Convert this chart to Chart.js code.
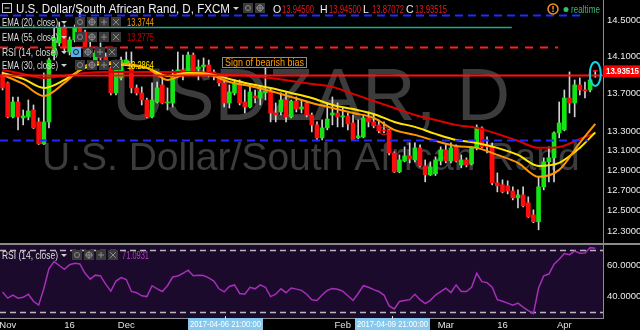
<!DOCTYPE html>
<html>
<head>
<meta charset="utf-8">
<script src="https://cdn.jsdelivr.net/npm/chart.js@4.4.1/dist/chart.umd.min.js"></script>
<style>
  html, body { margin: 0; padding: 0; background: #000; }
  #wrap { position: relative; width: 640px; height: 330px; overflow: hidden; background: #000; }
  #price { position: absolute; left: 0; top: 0; }
  #rsi { position: absolute; left: 0; top: 243px; }
</style>
</head>
<body>
<div id="wrap">
  <canvas id="price" width="640" height="243"></canvas>
  <canvas id="rsi" width="640" height="87"></canvas>
</div>
<script>
// daily USDZAR candles (oldest first)
const opens = [
  13.897, 13.810, 13.448, 13.606, 13.437, 13.448, 13.521, 13.395, 13.167, 13.395,
  14.115, 14.249, 14.416, 14.148, 14.282, 14.416, 14.371, 14.192, 14.027, 14.137,
  14.093, 13.973, 13.702, 13.864, 14.027, 13.973, 13.756, 13.702, 13.627, 13.448,
  13.606, 13.788, 13.595, 13.595, 13.918, 13.951, 13.929, 14.115, 13.962, 13.984,
  14.005, 13.929, 13.875, 13.810, 13.595, 13.702, 13.810, 13.606, 13.553, 13.670,
  13.648, 13.702, 13.713, 13.489, 13.500, 13.627, 13.448, 13.616, 13.531, 13.595,
  13.468, 13.364, 13.229, 13.333, 13.468, 13.489, 13.448, 13.458, 13.385, 13.229,
  13.239, 13.437, 13.395, 13.364, 13.312, 13.312, 13.074, 12.882, 12.993, 13.044,
  13.003, 13.126, 12.942, 12.852, 12.862, 12.993, 13.105, 12.993, 13.136, 12.952,
  13.003, 12.962, 13.126, 13.333, 13.157, 13.136, 12.772, 12.752, 12.742, 12.692,
  12.623, 12.652, 12.574, 12.456, 12.389, 12.732, 12.983, 13.024, 13.281, 13.312,
  13.648, 13.595, 13.788, 13.734, 13.734, 13.945
];
const highs = [
  13.929, 13.820, 13.659, 13.659, 13.521, 13.627, 13.574, 13.437, 13.918, 14.082,
  14.427, 14.483, 14.450, 14.315, 14.450, 14.620, 14.393, 14.282, 14.170, 14.249,
  14.137, 13.984, 14.060, 14.093, 14.148, 14.148, 13.788, 13.767, 13.648, 13.810,
  13.820, 13.875, 13.756, 13.951, 14.148, 14.115, 14.148, 14.137, 14.060, 14.082,
  14.060, 13.951, 13.897, 13.842, 13.788, 13.842, 13.842, 13.734, 13.767, 13.734,
  13.767, 13.973, 13.756, 13.595, 13.702, 13.702, 13.627, 13.659, 13.627, 13.606,
  13.489, 13.395, 13.416, 13.595, 13.659, 13.595, 13.542, 13.489, 13.468, 13.416,
  13.468, 13.500, 13.468, 13.416, 13.395, 13.320, 13.085, 13.054, 13.136, 13.177,
  13.177, 13.157, 13.003, 12.983, 13.034, 13.136, 13.157, 13.177, 13.157, 13.054,
  13.024, 13.136, 13.364, 13.343, 13.239, 13.177, 12.872, 12.802, 12.792, 12.732,
  12.702, 12.732, 12.633, 12.505, 12.832, 13.024, 13.136, 13.291, 13.606, 13.734,
  13.929, 13.842, 13.864, 13.820, 13.929, 13.945
];
const lows = [
  13.734, 13.437, 13.437, 13.312, 13.364, 13.416, 13.325, 13.160, 13.160, 13.333,
  14.060, 14.215, 14.137, 14.115, 14.260, 14.282, 14.170, 14.093, 14.005, 13.984,
  13.984, 13.680, 13.680, 13.842, 14.005, 13.702, 13.680, 13.574, 13.437, 13.437,
  13.595, 13.585, 13.521, 13.553, 13.907, 13.842, 13.897, 13.897, 13.842, 13.918,
  13.875, 13.842, 13.777, 13.553, 13.542, 13.680, 13.574, 13.489, 13.542, 13.595,
  13.574, 13.627, 13.395, 13.395, 13.468, 13.395, 13.437, 13.500, 13.489, 13.448,
  13.291, 13.208, 13.208, 13.312, 13.364, 13.343, 13.343, 13.312, 13.200, 13.218,
  13.229, 13.343, 13.333, 13.281, 13.281, 13.054, 12.875, 12.872, 12.983, 12.973,
  12.983, 12.932, 12.782, 12.845, 12.845, 12.952, 12.973, 12.973, 12.983, 12.922,
  12.932, 12.952, 13.105, 13.126, 13.074, 12.752, 12.682, 12.672, 12.662, 12.603,
  12.525, 12.534, 12.430, 12.379, 12.311, 12.702, 12.782, 12.782, 13.229, 13.302,
  13.489, 13.448, 13.680, 13.648, 13.713, 13.87072
];
const closes = [
  13.756, 13.448, 13.606, 13.448, 13.458, 13.510, 13.333, 13.167, 13.395, 14.060,
  14.304, 14.416, 14.192, 14.282, 14.416, 14.371, 14.192, 14.115, 14.137, 14.082,
  14.027, 13.702, 13.973, 14.060, 14.060, 13.756, 13.702, 13.627, 13.448, 13.627,
  13.756, 13.595, 13.606, 13.875, 13.951, 13.929, 14.115, 13.918, 13.984, 14.005,
  13.918, 13.918, 13.810, 13.595, 13.713, 13.810, 13.595, 13.553, 13.713, 13.648,
  13.713, 13.723, 13.489, 13.468, 13.627, 13.448, 13.616, 13.531, 13.553, 13.468,
  13.364, 13.229, 13.333, 13.426, 13.489, 13.448, 13.458, 13.374, 13.208, 13.250,
  13.437, 13.395, 13.354, 13.302, 13.302, 13.074, 12.882, 13.003, 13.044, 13.013,
  13.126, 12.942, 12.852, 12.932, 13.003, 13.105, 12.993, 13.126, 12.993, 13.003,
  12.952, 13.126, 13.333, 13.136, 13.136, 12.772, 12.742, 12.682, 12.692, 12.623,
  12.652, 12.544, 12.437, 12.389, 12.732, 12.983, 13.024, 13.281, 13.385, 13.648,
  13.595, 13.788, 13.734, 13.723, 13.842, 13.93515
];

// moving averages read every fourth bar
const emaIdx = [0, 4, 8, 12, 16, 20, 24, 28, 32, 36, 40, 44, 48, 52, 56, 60, 64, 68, 72, 76, 80, 84, 88, 92, 96, 100, 104, 108, 112, 115];
const ema20 = [13.897, 13.799, 13.670, 13.810, 13.995, 14.038, 14.016, 13.973, 13.842, 13.907, 13.897, 13.820, 13.777, 13.723, 13.659,
  13.595, 13.542, 13.489, 13.437, 13.312, 13.260, 13.198, 13.146, 13.126, 13.054, 12.973, 12.832, 12.902, 13.177, 13.3744];
const ema30 = [13.918, 13.853, 13.756, 13.842, 13.973, 14.016, 14.005, 13.973, 13.886, 13.918, 13.907, 13.853, 13.799, 13.756, 13.702,
  13.648, 13.574, 13.531, 13.479, 13.395, 13.343, 13.270, 13.208, 13.177, 13.126, 13.054, 12.942, 12.973, 13.126, 13.2864];
const ema55 = [13.951, 13.907, 13.864, 13.886, 13.918, 13.929, 13.929, 13.929, 13.929, 13.929, 13.918, 13.897, 13.886, 13.864, 13.831,
  13.799, 13.767, 13.692, 13.616, 13.542, 13.468, 13.416, 13.364, 13.333, 13.270, 13.198, 13.126, 13.136, 13.218, 13.2775];

const rsi = [
  43, 39, 41, 39, 39.5, 41.5, 37, 34.5, 45, 58,
  62.5, 60, 57.5, 60.5, 61.4, 61, 55, 51.2, 53.8, 53.3,
  48, 43.5, 50, 52.2, 51, 43.3, 42.5, 40.5, 40, 47,
  45, 43.3, 47, 52.6, 53.2, 55, 57, 53.4, 53.8, 53.5,
  52, 50, 45, 43, 46.5, 47.5, 42, 41.5, 46, 45,
  47.5, 46, 40, 41.5, 45, 42.5, 45.5, 44.8, 44, 41.5,
  38, 37.5, 41, 44, 45.2, 44.7, 43.5, 40.5, 37.5, 42,
  47, 46, 44.5, 43.3, 41, 34, 32, 36.8, 37.4, 38,
  41.5, 38, 35.5, 37.6, 41, 43.2, 45.4, 42.6, 47.5, 43.3,
  43.2, 46, 55, 49.6, 49, 46, 38, 37, 35.8, 34.5,
  35.8, 33.2, 31, 29, 45.5, 53.3, 54.5, 60.8, 64, 67.7,
  67, 69.3, 67.9, 68, 71.5, 71.0931
];

// drawn levels: price and the bar where each one stops
const levelValues = [14.563, 14.427, 14.204, 13.90, 13.208];
const levelEnds = [112.6, 98.8, 107.8, 116.5, 113.6];
const rsiBands = [70, 30];

const priceTicks = [12.3, 12.5, 12.7, 12.9, 13.1, 13.3, 13.7, 14.1, 14.5];
const rsiTicks = [40, 60];
const xTickIdx = [1, 13, 24, 66, 86, 97, 109];
const xTickText = ['Nov', '16', 'Dec', 'Feb', 'Mar', '16', 'Apr'];

const slots = 117;
const labels = Array.from({ length: slots }, (_, i) => i);
const last = closes.length - 1;

const FONT = "'Liberation Sans', Arial, sans-serif";
const AXFONT = "'Liberation Sans Narrow', 'Liberation Sans', Arial, sans-serif";
const upColor = '#16e316';
const downColor = '#ff0d0d';

function sparse(idx, vals) {
  const out = new Array(slots).fill(null);
  idx.forEach((k, j) => { out[k] = vals[j]; });
  return out;
}

function noPad(s) {
  s.paddingTop = 0; s.paddingBottom = 0; s.paddingLeft = 0; s.paddingRight = 0;
}

function text(ctx, s, x, y, color, size, maxW) {
  ctx.fillStyle = color;
  ctx.font = size + 'px ' + FONT;
  ctx.textAlign = 'left';
  ctx.textBaseline = 'alphabetic';
  if (maxW) ctx.fillText(s, x, y, maxW); else ctx.fillText(s, x, y);
}

function icons(ctx, x0, top, n, blueFirst) {
  for (let k = 0; k < n; k++) {
    const x = x0 + k * 12;
    ctx.fillStyle = (blueFirst && k === 0) ? '#5ab0e6' : '#3a3a3a';
    ctx.fillRect(x, top, 10, 10);
    ctx.strokeStyle = (blueFirst && k === 0) ? '#123' : '#8a8a8a';
    ctx.lineWidth = 1;
    ctx.beginPath();
    if (k === 0) { ctx.arc(x + 5, top + 5, 2.5, 0, Math.PI * 2); }
    else if (k === 1) { ctx.arc(x + 5, top + 5, 2.8, 0, Math.PI * 2); ctx.moveTo(x + 5, top + 1); ctx.lineTo(x + 5, top + 9); ctx.moveTo(x + 1, top + 5); ctx.lineTo(x + 9, top + 5); }
    else if (k === 2) { ctx.moveTo(x + 5, top + 2); ctx.lineTo(x + 5, top + 8); ctx.moveTo(x + 2, top + 5); ctx.lineTo(x + 8, top + 5); }
    else { ctx.moveTo(x + 2, top + 2); ctx.lineTo(x + 8, top + 8); ctx.moveTo(x + 8, top + 2); ctx.lineTo(x + 2, top + 8); }
    ctx.stroke();
  }
}

function caret(ctx, x, y) {
  ctx.fillStyle = '#cfcfcf';
  ctx.beginPath();
  ctx.moveTo(x, y); ctx.lineTo(x + 6, y); ctx.lineTo(x + 3, y + 3);
  ctx.closePath();
  ctx.fill();
}

const levelStyles = [
  { color: '#1f2bff', width: 2, dash: [8, 5] },
  { color: '#1fa88c', width: 1.5, dash: [] },
  { color: '#ff2020', width: 2, dash: [8, 7] },
  { color: '#ff1010', width: 2, dash: [] },
  { color: '#1f2bff', width: 2, dash: [8, 5] }
];

const priceDecor = {
  id: 'priceDecor',
  beforeDatasetsDraw(chart) {
    const ctx = chart.ctx;
    ctx.save();
    ctx.fillStyle = '#3c3c3c';
    ctx.textBaseline = 'alphabetic';
    ctx.textAlign = 'left';
    ctx.font = '74px ' + FONT;
    ctx.fillText('USDZAR, D', 112, 120, 398);
    ctx.font = '39px ' + FONT;
    ctx.fillText('U.S. Dollar/South African Rand', 42, 170, 548);
    ctx.restore();
  },
  afterDatasetsDraw(chart) {
    const ctx = chart.ctx;
    const a = chart.chartArea;
    const xs = chart.scales.x, ys = chart.scales.y;
    ctx.save();
    levelValues.forEach((v, k) => {
      const st = levelStyles[k];
      const y = Math.round(ys.getPixelForValue(v)) + 0.5;
      const xe = Math.min(a.right, xs.getPixelForValue(levelEnds[k]));
      ctx.strokeStyle = st.color;
      ctx.lineWidth = st.width;
      ctx.setLineDash(st.dash);
      ctx.beginPath();
      ctx.moveTo(a.left, y);
      ctx.lineTo(xe, y);
      ctx.stroke();
    });
    ctx.setLineDash([]);

    // highlighted last bar
    const lx = xs.getPixelForValue(last);
    const ly = ys.getPixelForValue((highs[last] + lows[last]) / 2);
    ctx.strokeStyle = '#14d4e8';
    ctx.lineWidth = 2;
    ctx.beginPath();
    ctx.ellipse(lx, ly, 5.5, 12, 0, 0, Math.PI * 2);
    ctx.stroke();

    // small marker
    ctx.strokeStyle = '#e02020';
    ctx.lineWidth = 1;
    ctx.beginPath();
    ctx.arc(xs.getPixelForValue(74), ys.getPixelForValue(closes[74]), 4, 0, Math.PI * 2);
    ctx.stroke();

    // note box
    ctx.fillStyle = '#000';
    ctx.fillRect(222, 57, 85, 11);
    ctx.strokeStyle = '#8a8a8a';
    ctx.strokeRect(222.5, 57.5, 84, 10);
    text(ctx, 'Sign of bearish bias', 225, 66, '#ffa000', 10, 79);
    ctx.restore();
  },
  afterDraw(chart) {
    const ctx = chart.ctx;
    const ys = chart.scales.y;
    ctx.save();
    // title row
    ctx.strokeStyle = '#cfcfcf';
    ctx.lineWidth = 1;
    ctx.strokeRect(2.5, 3.5, 9, 9);
    ctx.beginPath(); ctx.moveTo(4.5, 8); ctx.lineTo(9.5, 8); ctx.stroke();
    text(ctx, 'U.S. Dollar/South African Rand, D, FXCM', 16, 13, '#f2f2f2', 12.5, 214);
    caret(ctx, 233, 7);
    icons(ctx, 243, 3, 2, false);
    const ohlc = [['O', opens[last]], ['H', highs[last]], ['L', lows[last]], ['C', closes[last]]];
    const ox = [273, 320, 363, 406];
    ohlc.forEach((p, k) => {
      text(ctx, p[0], ox[k], 13, '#f2f2f2', 10.5);
      text(ctx, p[1].toFixed(5), ox[k] + 9, 13, '#e21d1d', 10.5, 32);
    });
    // realtime badge
    ctx.strokeStyle = '#f0922a';
    ctx.lineWidth = 1.5;
    ctx.beginPath(); ctx.arc(553, 9, 5, 0, Math.PI * 2); ctx.stroke();
    ctx.fillStyle = '#f0922a';
    ctx.fillRect(552.3, 6, 1.5, 3.5);
    ctx.fillRect(552.3, 10.5, 1.5, 1.5);
    ctx.fillStyle = '#2fbf71';
    ctx.beginPath(); ctx.arc(566, 9.5, 2.5, 0, Math.PI * 2); ctx.fill();
    text(ctx, 'realtime', 571, 13, '#3fb37a', 10, 29);

    // indicator legend
    const rows = [
      { label: 'EMA (20, close)', y: 26, val: ema20[ema20.length - 1].toFixed(4), color: '#ff9a00' },
      { label: 'EMA (55, close)', y: 41, val: ema55[ema55.length - 1].toFixed(4), color: '#c80000' },
      { label: 'RSI (14, close)', y: 56, val: null, color: null },
      { label: 'EMA (30, close)', y: 69, val: ema30[ema30.length - 1].toFixed(4), color: '#ffee00' }
    ];
    rows.forEach((r, k) => {
      text(ctx, r.label, 2, r.y, '#dcdcdc', 10.5, 56);
      caret(ctx, 61, r.y - 5);
      icons(ctx, k === 2 ? 71 : 75, r.y - 9, 4, k === 2);
      if (r.val) text(ctx, r.val, 127, r.y, r.color, 10.5, 27);
    });

    // last price on the axis
    const py = ys.getPixelForValue(closes[last]);
    ctx.fillStyle = '#ff0000';
    ctx.fillRect(603, py - 6, 37, 12);
    ctx.fillStyle = '#fff';
    ctx.font = 'bold 9px ' + AXFONT;
    ctx.textBaseline = 'middle';
    ctx.fillText(closes[last].toFixed(5), 606, py + 0.5, 33);
    ctx.restore();
  }
};

const rsiDecor = {
  id: 'rsiDecor',
  beforeDatasetsDraw(chart) {
    const ctx = chart.ctx;
    const a = chart.chartArea;
    const ys = chart.scales.y;
    ctx.save();
    ctx.fillStyle = '#1c0a2c';
    ctx.fillRect(a.left, a.top, a.right - a.left, a.bottom - a.top);
    ctx.fillStyle = '#8a8a8a';
    ctx.fillRect(0, 0, 640, 2);
    ctx.strokeStyle = '#b8b8b8';
    ctx.lineWidth = 1.5;
    ctx.setLineDash([6, 4]);
    rsiBands.forEach(v => {
      const y = Math.round(ys.getPixelForValue(v)) + 0.5;
      ctx.beginPath();
      ctx.moveTo(a.left, y);
      ctx.lineTo(a.right, y);
      ctx.stroke();
    });
    ctx.restore();
  },
  afterDraw(chart) {
    const ctx = chart.ctx;
    ctx.save();
    text(ctx, 'RSI (14, close)', 2, 16, '#dcdcdc', 10.5, 56);
    caret(ctx, 61, 11);
    icons(ctx, 72, 7, 4, false);
    text(ctx, rsi[last].toFixed(4), 122, 16, '#b040c0', 10.5, 27);

    // crosshair date boxes
    const boxes = [[188, '2017-04-06 21:00:00'], [355, '2017-04-09 21:00:00']];
    boxes.forEach(b => {
      ctx.fillStyle = '#86c8ee';
      ctx.fillRect(b[0], 75, 75, 12);
      ctx.fillStyle = '#dcdcdc';
      ctx.fillRect(b[0] + 37, 73, 1, 3);
      ctx.fillStyle = '#fff';
      ctx.font = '9.5px ' + FONT;
      ctx.textBaseline = 'middle';
      ctx.textAlign = 'center';
      ctx.fillText(b[1], b[0] + 37.5, 81.5, 71);
    });
    ctx.restore();
  }
};

new Chart(document.getElementById('price'), {
  type: 'bar',
  data: {
    labels: labels,
    datasets: [
      {
        type: 'line', label: 'EMA 20', data: sparse(emaIdx, ema20), spanGaps: true,
        borderColor: '#ff9800', borderWidth: 2, pointRadius: 0, cubicInterpolationMode: 'monotone', order: 0
      },
      {
        type: 'line', label: 'EMA 30', data: sparse(emaIdx, ema30), spanGaps: true,
        borderColor: '#ffe600', borderWidth: 2, pointRadius: 0, cubicInterpolationMode: 'monotone', order: 0
      },
      {
        type: 'line', label: 'EMA 55', data: sparse(emaIdx, ema55), spanGaps: true,
        borderColor: '#e00000', borderWidth: 2, pointRadius: 0, cubicInterpolationMode: 'monotone', order: 0
      },
      {
        label: 'body', data: opens.map((o, i) => [o, closes[i]]),
        backgroundColor: closes.map((c, i) => c >= opens[i] ? upColor : downColor),
        barThickness: 4, minBarLength: 1, grouped: false, borderWidth: 0, order: 1
      },
      {
        label: 'wick', data: lows.map((l, i) => [l, highs[i]]),
        backgroundColor: '#d2d2d2', barThickness: 1, grouped: false, borderWidth: 0, order: 2
      }
    ]
  },
  options: {
    responsive: false,
    animation: false,
    layout: { padding: 0, autoPadding: false },
    plugins: { legend: { display: false }, tooltip: { enabled: false } },
    scales: {
      x: { type: 'category', offset: true, display: false },
      y: {
        type: 'logarithmic', position: 'right', min: 12.185, max: 14.735,
        afterFit(s) { s.width = 37; noPad(s); },
        afterBuildTicks(s) { s.ticks = priceTicks.map(v => ({ value: v })); },
        grid: { display: false, drawTicks: false },
        border: { display: true, color: '#8c8c8c' },
        ticks: {
          color: '#ececec', padding: 4, autoSkip: false,
          font: { size: 9.5, family: AXFONT },
          callback: v => Number(v).toFixed(5)
        }
      }
    }
  },
  plugins: [priceDecor]
});

new Chart(document.getElementById('rsi'), {
  type: 'line',
  data: {
    labels: labels,
    datasets: [{
      label: 'RSI', data: rsi, borderColor: '#a52fb8', borderWidth: 1.5, pointRadius: 0, tension: 0
    }]
  },
  options: {
    responsive: false,
    animation: false,
    layout: { padding: 0, autoPadding: false },
    plugins: { legend: { display: false }, tooltip: { enabled: false } },
    scales: {
      x: {
        type: 'category', offset: true,
        afterFit(s) { s.height = 12; noPad(s); },
        afterBuildTicks(s) { s.ticks = xTickIdx.map(v => ({ value: v })); },
        grid: { display: false, drawTicks: false },
        border: { display: true, color: '#8c8c8c' },
        ticks: {
          autoSkip: false, maxRotation: 0, padding: 2, color: '#e0e0e0',
          font: { size: 9.5, family: FONT },
          callback: (v, i) => xTickText[i]
        }
      },
      y: {
        position: 'right', min: 26.2, max: 74.5,
        afterFit(s) { s.width = 37; noPad(s); },
        afterBuildTicks(s) { s.ticks = rsiTicks.map(v => ({ value: v })); },
        grid: { display: false, drawTicks: false },
        border: { display: true, color: '#8c8c8c' },
        ticks: {
          color: '#ececec', padding: 4, autoSkip: false,
          font: { size: 9.5, family: AXFONT },
          callback: v => Number(v).toFixed(4)
        }
      }
    }
  },
  plugins: [rsiDecor]
});
</script>
</body>
</html>
